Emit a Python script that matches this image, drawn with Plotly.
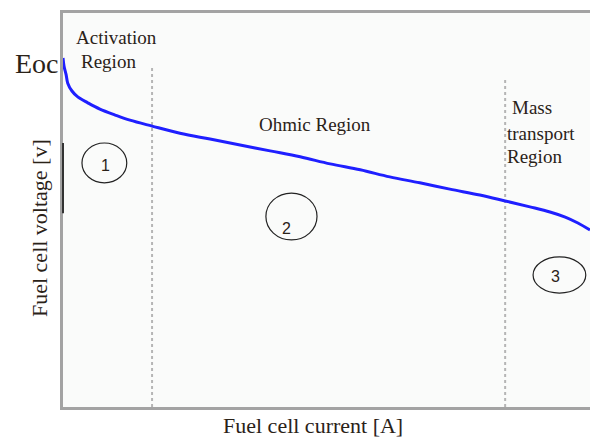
import plotly.graph_objects as go

# Polarization curve (arbitrary units)
current = [0.0, 0.2, 0.6, 0.9, 1.7, 2.8, 4.7, 7.0, 9.9, 12.7, 16.9, 22.2, 27.9, 33.6,
           39.3, 45.0, 50.7, 56.4, 62.0, 67.7, 73.4, 79.1, 83.9, 88.6, 92.4, 95.3, 97.7, 100.0]
voltage = [88.6, 86.5, 84.3, 82.2, 80.2, 78.7, 77.2, 75.6, 74.1, 72.8, 71.3, 69.5, 68.0, 66.5,
           65.0, 63.5, 61.7, 60.2, 58.4, 56.9, 55.3, 53.8, 52.3, 50.8, 49.5, 48.2, 46.7, 44.9]

region_bounds = [16.9, 83.9]
region_bound_tops = [86.5, 83.0]
region_numbers = ["1", "2", "3"]

SERIF = "Liberation Serif, Times New Roman, serif"
TXT = "#2a2218"

fig = go.Figure()
fig.add_trace(go.Scatter(x=current, y=voltage, mode="lines",
                         line=dict(color="#1f1fff", width=3, shape="spline"),
                         hoverinfo="skip", showlegend=False))

shapes = []
for xb, yt in zip(region_bounds, region_bound_tops):
    shapes.append(dict(type="line", x0=xb, x1=xb, y0=0, y1=yt, xref="x", yref="y",
                       line=dict(color="#b5b5b5", width=2, dash="dot"), layer="below"))

circles = [(3.6, 12.1, 56.9, 67.0), (38.5, 48.2, 42.4, 54.3), (89.2, 99.2, 28.9, 38.1)]
label_pos = [(8.0, 61.4), (42.5, 45.4), (93.4, 33.2)]
for (x0, x1, y0, y1) in circles:
    shapes.append(dict(type="circle", x0=x0, x1=x1, y0=y0, y1=y1, xref="x", yref="y",
                       line=dict(color="#222", width=1.2)))
# darker segment on the voltage axis
shapes.append(dict(type="line", x0=0, x1=0, y0=49.2, y1=67.0, xref="paper", yref="y",
                   line=dict(color="#333", width=2)))
fig.update_layout(shapes=shapes)

ann = []
for t, (lx, ly) in zip(region_numbers, label_pos):
    ann.append(dict(x=lx, y=ly, text=t, showarrow=False, xanchor="center", yanchor="middle",
                    font=dict(family="Liberation Sans, Arial, sans-serif", size=16, color=TXT)))

def tlabel(x, y, text, size=19, anchor="left"):
    ann.append(dict(x=x, y=y, text=text, showarrow=False, xanchor=anchor, yanchor="middle",
                    font=dict(family=SERIF, size=size, color=TXT)))

tlabel(2.1, 93.7, "Activation")
tlabel(3.0, 87.8, "Region")
tlabel(36.8, 71.6, "Ohmic Region")
tlabel(84.8, 75.9, "Mass")
tlabel(83.9, 69.5, "transport")
tlabel(83.9, 63.7, "Region")

ann.append(dict(x=-0.095, y=0.873, xref="paper", yref="paper", text="Eoc", showarrow=False,
                xanchor="left", yanchor="middle", font=dict(family=SERIF, size=28, color=TXT)))
ann.append(dict(x=-0.045, y=0.455, xref="paper", yref="paper", text="Fuel cell voltage [v]",
                showarrow=False, textangle=-90, xanchor="center", yanchor="middle",
                font=dict(family=SERIF, size=22, color=TXT)))
ann.append(dict(x=0.475, y=-0.048, xref="paper", yref="paper", text="Fuel cell current [A]",
                showarrow=False, xanchor="center", yanchor="middle",
                font=dict(family=SERIF, size=22, color=TXT)))
fig.update_layout(annotations=ann)

fig.update_xaxes(range=[0, 100], showgrid=False, zeroline=False, showticklabels=False, ticks="",
                 showline=True, linecolor="#a3a3a3", linewidth=3, mirror=True)
fig.update_yaxes(range=[0, 100], showgrid=False, zeroline=False, showticklabels=False, ticks="",
                 showline=True, linecolor="#a3a3a3", linewidth=3, mirror=False)

fig.update_layout(width=590, height=437, margin=dict(l=63, r=0, t=13, b=30),
                  paper_bgcolor="white", plot_bgcolor="#fafbfa")

fig.write_html("out.html", config={"displayModeBar": False},
               post_script="document.body.style.margin='0';document.body.style.overflow='hidden';")
